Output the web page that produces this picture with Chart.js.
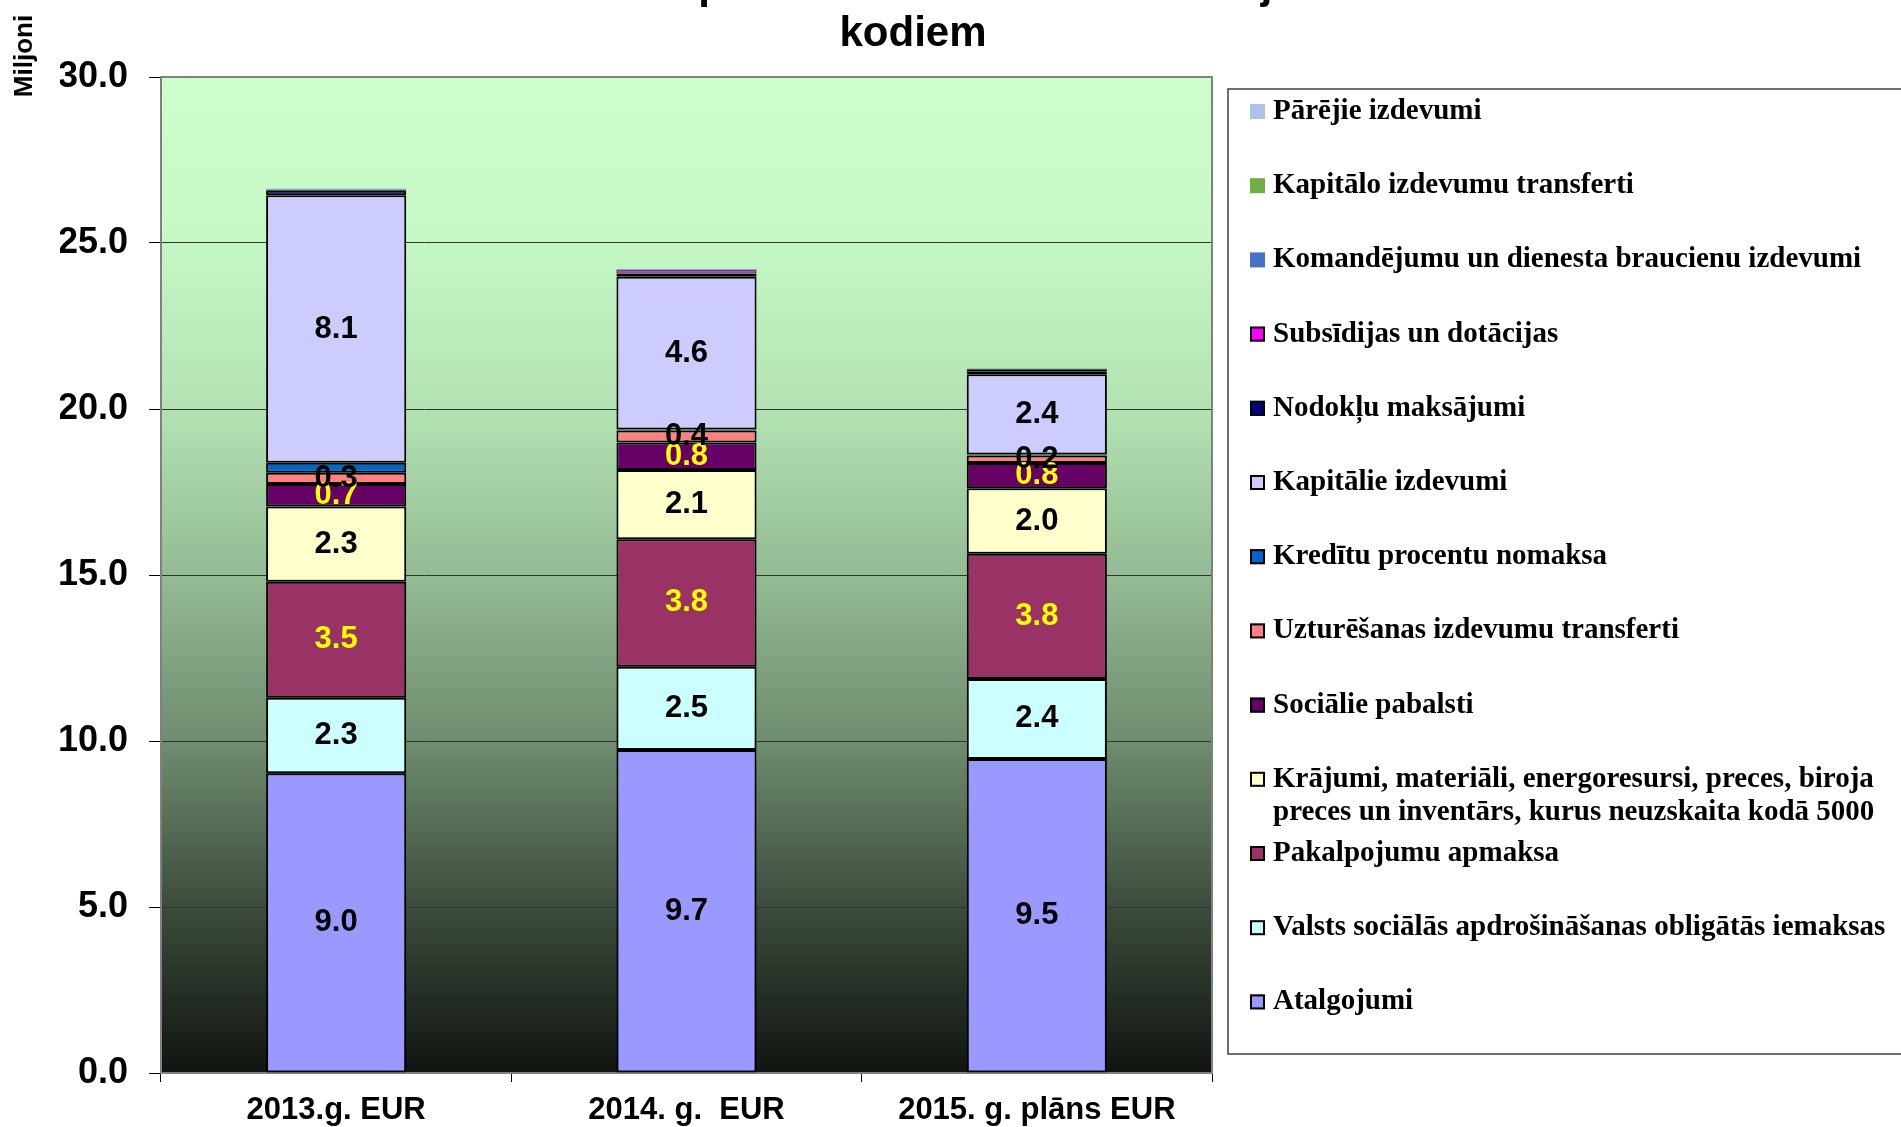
<!DOCTYPE html>
<html>
<head>
<meta charset="utf-8">
<script src="https://cdn.jsdelivr.net/npm/chart.js@4.4.0/dist/chart.umd.min.js"></script>
<style>
html, body { margin: 0; padding: 0; background: #fff; overflow: hidden; }
#kaste { position: absolute; left: 0; top: 0; width: 1901px; height: 1127px; }
</style>
</head>
<body>
<div id="kaste"><canvas id="grafiks"></canvas></div>
<script>
// dati (miljoni EUR)
var kategorijas = ['2013.g. EUR', '2014. g.  EUR', '2015. g. plāns EUR'];
var virsraksts = ['Izdevumi pēc ekonomiskās klasifikācijas', 'kodiem'];
var asuNosaukums = 'Miljoni';
var asuSoli = [0, 5, 10, 15, 20, 25, 30];

var nosaukumi = [
    'Atalgojumi',
    'Valsts sociālās apdrošināšanas obligātās iemaksas',
    'Pakalpojumu apmaksa',
    'Krājumi, materiāli, energoresursi, preces, biroja\npreces un inventārs, kurus neuzskaita kodā 5000',
    'Sociālie pabalsti',
    'Uzturēšanas izdevumu transferti',
    'Kredītu procentu nomaksa',
    'Kapitālie izdevumi',
    'Nodokļu maksājumi',
    'Subsīdijas un dotācijas',
    'Komandējumu un dienesta braucienu izdevumi',
    'Kapitālo izdevumu transferti',
    'Pārējie izdevumi'
];

var atalgojumi    = [9.03, 9.73, 9.46];
var valstsSoc     = [2.27, 2.51, 2.41];
var pakalpojumi   = [3.50, 3.84, 3.77];
var krajumi       = [2.26, 2.08, 1.97];
var socPabalsti   = [0.68, 0.83, 0.76];
var uzturesanas   = [0.34, 0.36, 0.23];
var kreditu       = [0.30, 0.03, 0.03];
var kapitalie     = [8.06, 4.60, 2.42];
var nodoklu       = [0.15, 0.10, 0.09];
var subsidijas    = [0.00, 0.10, 0.06];
var komandejumi   = [0.02, 0.02, 0.01];
var kapTransferti = [0.00, 0.00, 0.00];
var parejie       = [0.03, 0.02, 0.01];

var serijas = [atalgojumi, valstsSoc, pakalpojumi, krajumi, socPabalsti, uzturesanas,
    kreditu, kapitalie, nodoklu, subsidijas, komandejumi, kapTransferti, parejie];

// izskats
var krasas = ['#9999FF', '#CCFFFF', '#993366', '#FFFFCC', '#660066', '#FF8080',
    '#0066CC', '#CCCCFF', '#000080', '#FF00FF', '#4472C4', '#70AD47', '#A9C4E8'];
var apmales = [2, 2, 2, 2, 2, 2, 2, 2, 2, 1, 0, 0, 0];
var etiketuKrasas = ['#000', '#000', '#FFFF00', '#000', '#FFFF00', '#000', null, '#000', null, null, null, null, null];

var datuKopas = serijas.map(function(s, i){
    return {
        label: nosaukumi[i],
        data: s,
        backgroundColor: krasas[i],
        borderColor: '#000',
        borderWidth: apmales[i],
        borderSkipped: false,
        etiketesKrasa: etiketuKrasas[i]
    };
});

var SANS = '"Liberation Sans", Arial, sans-serif';
var SERIF = '"Liberation Serif", "Times New Roman", serif';

/* fons ar krāsu pāreju, rāmis, vērtību etiķetes, virsraksts un leģenda */
var fons = {
    id: 'fons',
    beforeDraw: function(chart){
        var a = chart.chartArea, ctx = chart.ctx;
        var g = ctx.createLinearGradient(0, a.top, 0, a.bottom);
        g.addColorStop(0, '#CCFFCC');
        g.addColorStop(0.15, '#C7F9C7');
        g.addColorStop(0.33, '#B3E3B3');
        g.addColorStop(0.5, '#94BB94');
        g.addColorStop(0.67, '#6E8C6E');
        g.addColorStop(0.83, '#3D4D3D');
        g.addColorStop(1, '#101410');
        ctx.save();
        ctx.fillStyle = g;
        ctx.fillRect(a.left, a.top, a.right - a.left, a.bottom - a.top);
        ctx.restore();
    },
    beforeDatasetsDraw: function(chart){
        var a = chart.chartArea, ctx = chart.ctx;
        ctx.save();
        ctx.strokeStyle = '#808080';
        ctx.lineWidth = 2;
        ctx.strokeRect(a.left, a.top, a.right - a.left, a.bottom - a.top);
        ctx.restore();
    }
};

var etiketes = {
    id: 'etiketes',
    afterDatasetsDraw: function(chart){
        var ctx = chart.ctx;
        ctx.save();
        ctx.font = 'bold 31px ' + SANS;
        ctx.textAlign = 'center';
        ctx.textBaseline = 'middle';
        chart.data.datasets.forEach(function(ds, i){
            if(!ds.etiketesKrasa) return;
            var meta = chart.getDatasetMeta(i);
            meta.data.forEach(function(bar, j){
                ctx.fillStyle = ds.etiketesKrasa;
                ctx.fillText(ds.data[j].toFixed(1), bar.x, (bar.y + bar.base) / 2);
            });
        });
        ctx.restore();
    }
};

var teksti = {
    id: 'teksti',
    afterDraw: function(chart){
        var ctx = chart.ctx;
        ctx.save();
        // virsraksts (pirmā rinda ir ārpus attēla)
        ctx.fillStyle = '#000';
        ctx.font = 'bold 42px ' + SANS;
        ctx.textAlign = 'center';
        ctx.textBaseline = 'alphabetic';
        ctx.fillText(virsraksts[0], 913, -2);
        ctx.fillText(virsraksts[1], 913, 46);

        // ass nosaukums
        ctx.save();
        ctx.translate(25, 56);
        ctx.rotate(-Math.PI / 2);
        ctx.font = 'bold 26px ' + SANS;
        ctx.textBaseline = 'middle';
        ctx.fillText(asuNosaukums, 0, 0);
        ctx.restore();

        // leģenda
        ctx.strokeStyle = '#404040';
        ctx.lineWidth = 1.5;
        ctx.strokeRect(1228, 89, 800, 965);
        ctx.font = 'bold 29px ' + SERIF;
        ctx.textAlign = 'left';
        ctx.textBaseline = 'middle';
        var n = chart.data.datasets.length;
        for(var k = 0; k < n; k++){
            var ds = chart.data.datasets[n - 1 - k];
            var y = 111.5 + k * 74.2;
            ctx.fillStyle = ds.backgroundColor;
            ctx.fillRect(1250, y - 7.5, 15, 15);
            if(ds.borderWidth){
                ctx.lineWidth = 2;
                ctx.strokeStyle = '#000';
                ctx.strokeRect(1251, y - 6.5, 13, 13);
            }
            ctx.fillStyle = '#000';
            ds.label.split('\n').forEach(function(rinda, r){
                ctx.fillText(rinda, 1273, y + r * 33);
            });
        }
        ctx.restore();
    }
};

Chart.defaults.font.family = SANS;
Chart.defaults.color = '#000';

new Chart(document.getElementById('grafiks'), {
    type: 'bar',
    data: {
        labels: kategorijas,
        datasets: datuKopas
    },
    options: {
        responsive: true,
        maintainAspectRatio: false,
        animation: false,
        layout: {
            padding: { left: 60, right: 689, top: 77, bottom: 1 }
        },
        datasets: {
            bar: { categoryPercentage: 1, barPercentage: 0.4 }
        },
        plugins: {
            legend: { display: false },
            title: { display: false },
            tooltip: { enabled: false }
        },
        scales: {
            x: {
                stacked: true,
                grid: { display: true, drawOnChartArea: false, offset: true, tickLength: 9, tickColor: '#000' },
                border: { display: true, color: '#808080', width: 2 },
                ticks: { color: '#000', padding: 13, maxRotation: 0, font: { size: 31, weight: 'bold', lineHeight: 1 } },
                afterFit: function(scale){ scale.height = 53; }
            },
            y: {
                stacked: true,
                min: asuSoli[0],
                max: asuSoli[asuSoli.length - 1],
                grid: { color: '#333', lineWidth: 1, tickLength: 12, tickColor: '#000' },
                border: { display: true, color: '#808080', width: 2 },
                ticks: {
                    stepSize: asuSoli[1] - asuSoli[0],
                    color: '#000',
                    padding: 21,
                    font: { size: 36, weight: 'bold' },
                    callback: function(v){ return v.toFixed(1); }
                },
                afterFit: function(scale){ scale.width = 101; }
            }
        }
    },
    plugins: [fons, etiketes, teksti]
});
</script>
</body>
</html>
